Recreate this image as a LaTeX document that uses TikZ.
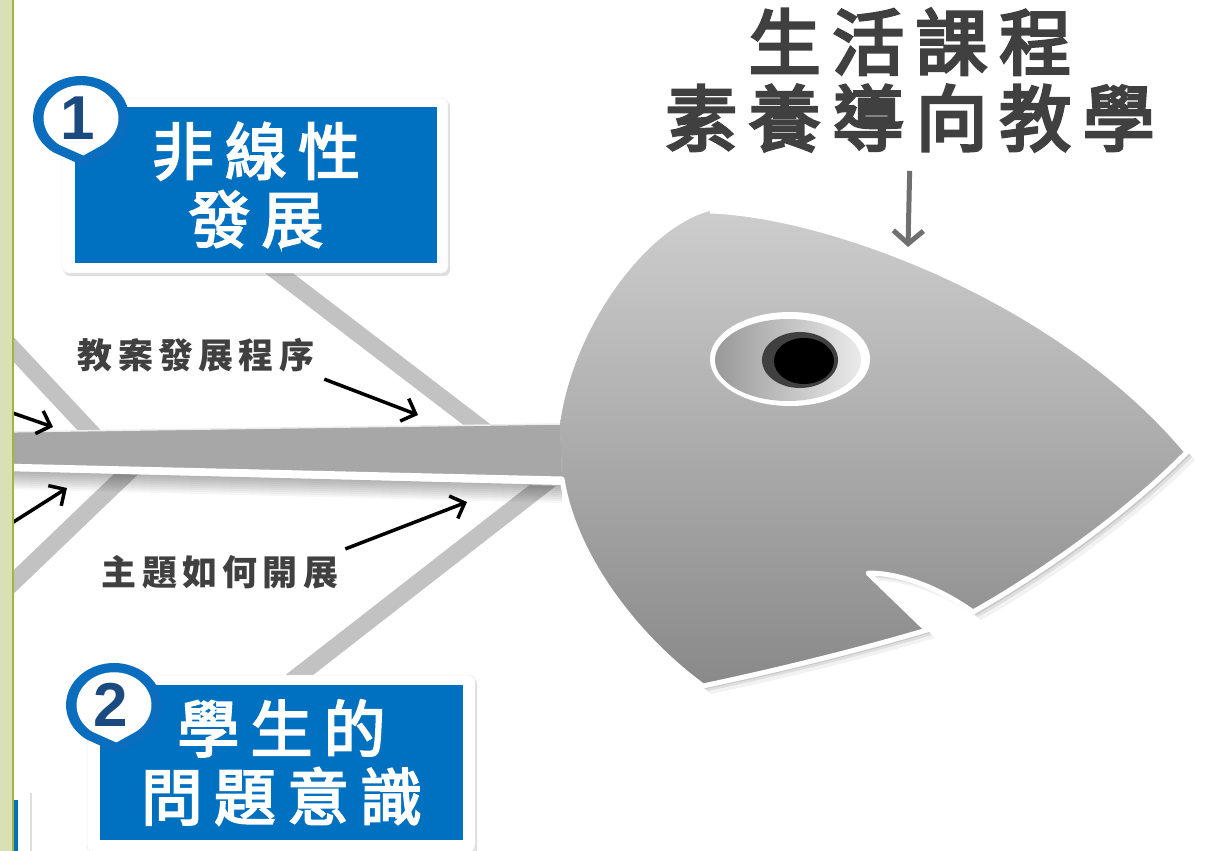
\documentclass[tikz,border=0pt]{standalone}
\usepackage{fontspec}
\usetikzlibrary{arrows.meta,shadows,positioning}

\newfontfamily\titlecjk{Noto Sans CJK TC}[LetterSpace=16, FakeBold=4]
\newfontfamily\boxcjk{Noto Sans CJK TC}[LetterSpace=18, FakeBold=3]
\newfontfamily\notecjk{Noto Sans CJK TC}[LetterSpace=15]
\newfontfamily\digits{Liberation Sans}

\definecolor{boxblue}{HTML}{0070C0}
\definecolor{pinblue}{HTML}{0A6DBE}
\definecolor{numblue}{HTML}{1A4A80}
\definecolor{bone}{HTML}{C2C2C2}
\definecolor{spine}{HTML}{A7A7A7}
\definecolor{headtop}{HTML}{CDCDCD}
\definecolor{headbot}{HTML}{898989}
\definecolor{inkgray}{HTML}{404040}
\definecolor{arrowgray}{HTML}{707070}
\definecolor{barfill}{HTML}{D8E0B4}
\definecolor{baredge}{HTML}{A3B53A}

% outline of the head: rim part is the one with the white edge
\def\headrim{(710,211) .. controls (830,215) and (1060,300) .. (1187,452)
  .. controls (1120,520) and (1030,580) .. (973,612)
  .. controls (945,592) and (905,573) .. (868,573) -- (927,630)
  .. controls (852,652) and (778,670) .. (703,686)
  .. controls (640,640) and (575,560) .. (562,479)}
\def\headpath{(560,425) .. controls (572,330) and (645,228) .. \headrim -- cycle}

\tikzset{
  pics/badge/.style={code={
    \foreach \s/\c in {1/pinblue,.78/white}
      \fill[\c, scale=\s] (-27.5,34.4) arc[start angle=125, end angle=420, x radius=48, y radius=42] -- (3,48) -- cycle;
    \node[numeral] (-num) at (-3,0) {#1};
  }},
  numeral/.style={inner sep=0pt, text=numblue, font=\digits\bfseries\fontsize{62}{62}\selectfont}
}

\begin{document}
\begin{tikzpicture}[x=1pt,y=-1pt,
    panelframe/.style={fill=white, draw=black!10, rounded corners=6pt,
      drop shadow={opacity=.25, shadow xshift=2pt, shadow yshift=-3pt}},
    panel/.style={fill=boxblue, text=white, align=center, inner sep=0pt,
      font=\boxcjk\fontsize{62}{68}\selectfont},
    note/.style={text=inkgray, inner sep=2pt, font=\notecjk\bfseries\fontsize{35}{35}\selectfont},
    headline/.style={text=inkgray, align=center, font=\titlecjk\fontsize{72}{76}\selectfont},
    pointer/.style={line width=3.5pt, -{Straight Barb[length=12pt,width=24pt]}},
    boneline/.style={draw=bone, line width=17pt}]
  \useasboundingbox (0,0) rectangle (1223,851);
  \fill[white] (0,0) rectangle (1223,851);

  % bones
  \draw[boneline] (250,251) -- (497,440);
  \draw[boneline] (0,335) -- (103,445);
  \draw[boneline] (146,455) -- (0,595);
  \draw[boneline] (569,465) -- (280,690);

  % spine with its white edge and shadow
  \fill[white] (0,463) -- (562,477) -- (562,486) -- (0,471) -- cycle;
  \foreach \k in {2,4,...,18}
    \fill[black, opacity=.035] (0,471) -- (562,485) -- (562,485+\k) -- (0,471+\k) -- cycle;
  \fill[spine] (0,432) -- (560,424) -- (562,479) -- (0,465) -- cycle;
  \draw[white!80!spine, line width=1.5pt] (0,432) -- (560,424);

  % head
  \foreach \d/\o in {8/.05,5/.08,3/.1}
    \fill[black, opacity=\o, shift={(\d,\d)}] \headpath;
  \shade[top color=headtop, bottom color=headbot] \headpath;
  \draw[white, line width=5pt, line join=round] \headrim -- (0,466);

  % eye
  \fill[white] (790,359) ellipse[x radius=80, y radius=47];
  \shade[left color=black!40, middle color=white, right color=white!92!black] (788,360) ellipse[x radius=73, y radius=41];
  \fill[black!75] (800,360) ellipse[x radius=38, y radius=28];
  \fill[black] (804,361) ellipse[x radius=30, y radius=23];

  % the two causes
  \node[panelframe, minimum width=386pt, minimum height=175pt] (frame1) at (255,185.5) {};
  \node[panel, minimum width=362pt, minimum height=156pt] (growth) at (256,185) {非線性\\發展};
  \pic (b1) at (81,118) {badge=1};

  \node[panelframe, minimum width=388pt, minimum height=177pt] (frame2) at (281,763.5) {};
  \node[panel, minimum width=363pt, minimum height=155pt] (question) at (281.5,762.5) {學生的\\問題意識};
  \pic (b2) at (114,705) {badge=2};

  % notes on the bones
  \node[note] (plan) at (196,355) {教案發展程序};
  \node[note] (theme) at (220,572) {主題如何開展};
  \coordinate (planTip) at (418,415);
  \coordinate (themeTip) at (467,502);
  \draw[pointer] ([shift={(8,5)}]plan.south east) -- (planTip);
  \draw[pointer] ([shift={(5,-4)}]theme.north east) -- (themeTip);
  \coordinate (leftA) at (4,410);
  \coordinate (leftATip) at (53,427);
  \coordinate (leftB) at (4,528);
  \coordinate (leftBTip) at (67,488);
  \draw[pointer] (leftA) -- (leftATip);
  \draw[pointer] (leftB) -- (leftBTip);

  % title
  \node[headline] (title) at (910,80) {生活課程\\素養導向教學};
  \coordinate (aim) at (908,247);
  \draw[arrowgray, line width=5pt, shorten <=16pt, -{Straight Barb[length=13pt,width=30pt]}] (title.south) -- (aim);

  % panel cut off at the left
  \fill[white, drop shadow={opacity=.25, shadow xshift=2pt, shadow yshift=0pt}] (4,793) rectangle (30,860);
  \fill[boxblue] (13,800) rectangle (18,860);

  % side bar
  \fill[barfill] (0,0) rectangle (12,851);
  \draw[baredge, line width=2.5pt] (13,0) -- (13,851);
\end{tikzpicture}
\end{document}
